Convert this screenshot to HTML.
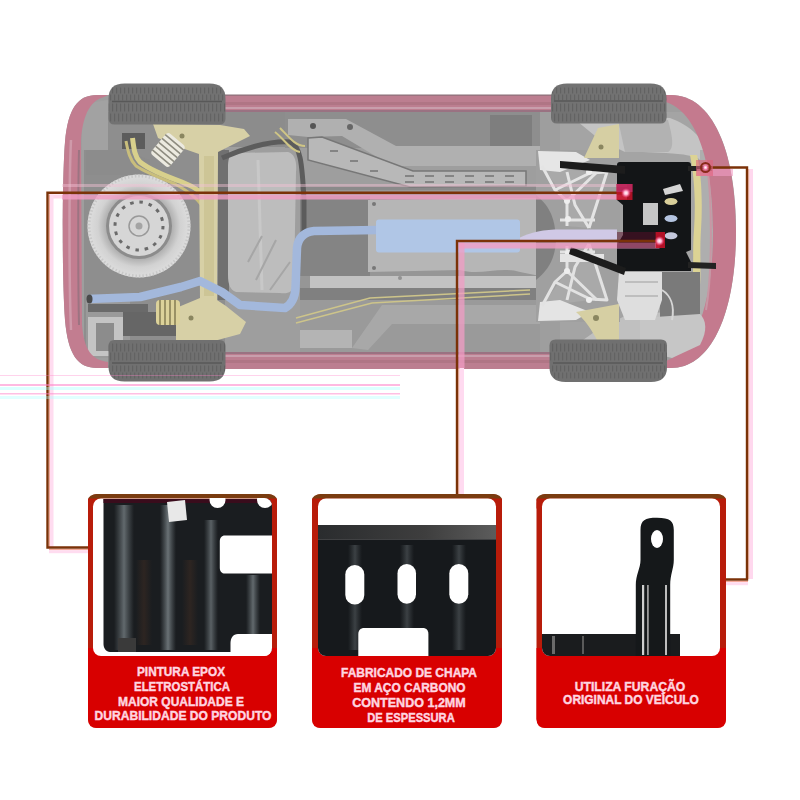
<!DOCTYPE html>
<html><head><meta charset="utf-8">
<style>
html,body{margin:0;padding:0;background:#fff;width:800px;height:800px;overflow:hidden;}
svg{display:block;position:absolute;left:0;top:0;}
text{font-family:"Liberation Sans",sans-serif;font-weight:bold;}
</style></head><body>
<svg width="800" height="800" viewBox="0 0 800 800">
<defs>
  <pattern id="tread" width="6" height="6" patternUnits="userSpaceOnUse">
    <rect width="6" height="6" fill="#6a6a6a"/>
    <rect x="0" y="0" width="1.5" height="6" fill="#595959"/>
  </pattern>
  <pattern id="tr1" width="4" height="41" patternUnits="userSpaceOnUse" y="83.5">
    <rect width="4" height="41" fill="#727272"/>
    <rect x="0" y="4" width="1.2" height="6" fill="#626262"/>
    <rect x="2" y="11" width="1.2" height="6" fill="#636363"/>
    <rect x="0" y="20" width="1.2" height="8" fill="#626262"/>
    <rect x="2" y="30" width="1.2" height="8" fill="#636363"/>
  </pattern>
  <pattern id="tr2" width="4" height="42" patternUnits="userSpaceOnUse" y="339.5">
    <rect width="4" height="42" fill="#707070"/>
    <rect x="0" y="4" width="1.2" height="8" fill="#626262"/>
    <rect x="2" y="13" width="1.2" height="8" fill="#636363"/>
    <rect x="0" y="26" width="1.2" height="6" fill="#626262"/>
    <rect x="2" y="33" width="1.2" height="6" fill="#636363"/>
  </pattern>
  <radialGradient id="sparegrad" cx="50%" cy="50%" r="50%">
    <stop offset="0.6" stop-color="#a8a8a8"/>
    <stop offset="0.8" stop-color="#d2d2d2"/>
    <stop offset="1" stop-color="#dedede"/>
  </radialGradient>
  <linearGradient id="streak" x1="0" y1="0" x2="1" y2="0">
    <stop offset="0" stop-color="#5a6266" stop-opacity="0"/>
    <stop offset="0.5" stop-color="#6a7276" stop-opacity="1"/>
    <stop offset="1" stop-color="#5a6266" stop-opacity="0"/>
  </linearGradient>
  <linearGradient id="brown" x1="0" y1="0" x2="1" y2="0">
    <stop offset="0" stop-color="#3a2a22" stop-opacity="0"/>
    <stop offset="0.5" stop-color="#3a2a22" stop-opacity="1"/>
    <stop offset="1" stop-color="#3a2a22" stop-opacity="0"/>
  </linearGradient>
  <linearGradient id="bandgrad" x1="0" y1="0" x2="1" y2="0">
    <stop offset="0" stop-color="#2a2c2e"/>
    <stop offset="0.6" stop-color="#3e3e3e"/>
    <stop offset="1" stop-color="#5c5c5c"/>
  </linearGradient>
  <radialGradient id="glow" cx="50%" cy="50%" r="50%">
    <stop offset="0" stop-color="#fff"/>
    <stop offset="0.4" stop-color="#ffb0d0"/>
    <stop offset="1" stop-color="#ff4080" stop-opacity="0"/>
  </radialGradient>
</defs>
<rect width="800" height="800" fill="#fff"/>

<!-- ============ CAR ============ -->
<g id="car">
  <!-- body silhouette -->
  <path d="M97 95 L671 95 C712 95 736 150 736 231 C736 312 712 368 671 368 L97 368 C78 368 68 355 65 320 C62 280 62 180 65 142 C68 108 78 95 97 95 Z" fill="#9e9e9e"/>
  <!-- rear inner area -->
  <path d="M84 112 L225 112 L225 352 L84 352 Z" fill="#8e8e8e"/>
  <path d="M82 104 L108 100 L108 150 L82 150 Z" fill="#a2a2a2"/>
  <path d="M86 150 L122 150 L150 160 L150 175 L86 175 Z" fill="#8c8c8c"/>
  <path d="M122 133 L145 133 L145 149 L122 149 Z" fill="#5c5c5c"/>
  <path d="M86 300 L130 300 L130 358 L86 358 Z" fill="#9a9a9a"/>
  <rect x="88" y="304" width="60" height="8" fill="#6a6a6a"/>
  <path d="M88 317 L123 317 L123 356 L88 356 Z" fill="#c4c4c4"/>
  <rect x="96" y="323" width="18" height="28" fill="#8c8c8c"/>
  <path d="M123 312 L185 312 L185 336 L123 336 Z" fill="#666"/>
  <!-- rear bumper band -->
  <path d="M97 95 C78 95 68 108 65 142 C62 180 62 280 65 320 C68 355 78 368 97 368 L108 368 L108 362 C92 360 84 350 82 325 L81 140 C83 112 92 100 104 97 L108 95 Z" fill="#c27d90"/>
  <path d="M71 140 C69 180 69 280 71 330" stroke="#cf9aaa" stroke-width="2.5" fill="none"/>
  <path d="M79 150 C78 190 78 280 79 325" stroke="#9c7482" stroke-width="2" fill="none"/>
  <!-- front inner areas -->
  <path d="M560 112 L700 112 C712 130 715 150 715 170 L715 300 C715 320 710 340 700 352 L560 352 Z" fill="#a4a4a4"/>
  <path d="M566 112 L670 118 C690 125 706 140 712 160 L700 160 C695 152 640 152 625 152 L600 140 Z" fill="#c4c4c4"/>
  <path d="M618 120 L668 120 C672 135 675 148 668 152 L625 152 Z" fill="#b2b2b2"/>
  <path d="M566 352 L670 346 C690 339 706 324 712 304 L700 300 C690 310 680 315 665 312 L625 316 L600 328 Z" fill="#c0c0c0"/>
  <path d="M660 310 L700 306 L706 330 L690 346 L666 350 Z" fill="#a9a9a9"/>
  <rect x="700" y="150" width="13" height="170" fill="#aeaeae"/>
  <path d="M697 155 C701 170 703 200 701 230 C699 260 703 285 697 298 L690 296 C695 280 692 255 694 230 C696 200 694 175 690 155 Z" fill="#dcd394"/>
  <!-- front bumper band -->
  <path d="M671 95 C712 95 736 150 736 231 C736 312 712 368 671 368 L662 368 L662 362 C695 355 713 305 713 231 C713 157 695 108 662 101 L662 95 Z" fill="#c47a8e"/>
  <path d="M706 160 C712 190 713 270 706 310" stroke="#c896a4" stroke-width="2" fill="none"/>
  <!-- sills -->
  <rect x="222" y="95" width="340" height="17" fill="#bc7e90"/>
  <rect x="222" y="94.5" width="340" height="1.2" fill="#8a7078"/>
  <rect x="222" y="102" width="340" height="3" fill="#b07585"/>
  <rect x="222" y="107" width="340" height="2" fill="#c89eac"/>
  <rect x="222" y="110" width="340" height="2" fill="#9a7282"/>
  <rect x="222" y="352" width="340" height="17" fill="#bc7e90"/>
  <rect x="222" y="352" width="340" height="2" fill="#9a7282"/>
  <rect x="222" y="355" width="340" height="2" fill="#c89eac"/>
  <rect x="222" y="360" width="340" height="3" fill="#b07585"/>

  <!-- middle underbody -->
  <rect x="225" y="112" width="315" height="240" fill="#9e9e9e"/>
  <rect x="225" y="112" width="60" height="35" fill="#8c8c8c"/>
  <rect x="285" y="112" width="255" height="36" fill="#8e8e8e"/>
  <rect x="490" y="115" width="42" height="35" fill="#7e7e7e"/>
  <rect x="300" y="186" width="240" height="10" fill="#8a8a8a"/>
  <!-- upper rail -->
  <path d="M288 119 L346 119 L396 146 L540 146 L540 166 L392 166 L342 136 L308 137 L288 135 Z" fill="#b0b0b0"/>
  <circle cx="313" cy="126" r="3" fill="#555"/><circle cx="350" cy="127" r="3" fill="#666"/>
  <!-- perforated bar -->
  <path d="M308 138 L322 137 L413 171 L526 171 L526 186 L410 187 L308 160 Z" fill="#b8b8b8" stroke="#777" stroke-width="1.5"/>
  <g fill="#848484">
    <rect x="330" y="150" width="8" height="2"/><rect x="350" y="160" width="8" height="2"/><rect x="370" y="170" width="8" height="2"/>
    <rect x="405" y="175" width="9" height="2"/><rect x="425" y="175" width="9" height="2"/><rect x="445" y="175" width="9" height="2"/><rect x="465" y="175" width="9" height="2"/><rect x="485" y="175" width="9" height="2"/><rect x="505" y="175" width="9" height="2"/>
    <rect x="405" y="181" width="9" height="2"/><rect x="425" y="181" width="9" height="2"/><rect x="445" y="181" width="9" height="2"/><rect x="465" y="181" width="9" height="2"/><rect x="485" y="181" width="9" height="2"/><rect x="505" y="181" width="9" height="2"/>
  </g>
  <!-- middle tunnel -->
  <rect x="300" y="190" width="240" height="110" fill="#969696"/>
  <rect x="300" y="196" width="70" height="80" fill="#848484"/>
  <path d="M368 200 L540 198 L540 276 L520 272 C500 266 480 276 460 270 L368 272 Z" fill="#b6b6b6"/>
  <path d="M310 276 L540 276 L540 288 L310 288 Z" fill="#c2c2c2"/>
  <path d="M300 288 L540 288 L540 300 L300 300 Z" fill="#808080"/>
  <circle cx="374" cy="204" r="2" fill="#777"/><circle cx="374" cy="268" r="2" fill="#777"/><circle cx="400" cy="278" r="2" fill="#929292"/>
  <path d="M300 300 L540 300 L540 352 L300 352 Z" fill="#9a9a9a"/>
  <path d="M352 348 L382 305 L540 305 L540 324 L392 324 L368 350 Z" fill="#a8a8a8"/>
  <path d="M296 318 L370 298 L530 290" stroke="#cdc48a" stroke-width="1.5" fill="none"/>
  <path d="M296 323 L372 303 L530 294" stroke="#cdc48a" stroke-width="1.5" fill="none"/>
  <rect x="300" y="330" width="52" height="18" fill="#b4b4b4"/>
  <!-- fuel tank -->
  <path d="M218 150 L229 150 L229 300 L218 300 Z" fill="#707070"/>
  <path d="M234 153 L288 152 C295 154 297 162 296 172 L294 285 C293 292 288 294 280 293 L236 292 C230 290 228 284 228 275 L228 168 C228 160 229 154 234 153 Z" fill="#bdbdbd"/>
  <path d="M222 158 C240 150 270 140 290 142 C300 146 302 160 304 200 L304 236" stroke="#5c5c5c" stroke-width="5" fill="none"/>
  <path d="M258 160 L262 290" stroke="#c8c8c8" stroke-width="3"/>
  <path d="M248 262 L262 236 M256 280 L276 240 M270 290 L290 262" stroke="#a6a6a6" stroke-width="2"/>
  <path d="M275 132 C285 140 290 150 300 152 M280 128 C288 136 295 146 305 146" stroke="#cfc585" stroke-width="2" fill="none"/>
  <!-- front subframe -->
  <path d="M536 150 L620 150 L620 322 L536 322 Z" fill="#a0a0a0"/>
  <path d="M536 195 C548 205 555 215 556 240 C555 260 548 270 536 280 Z" fill="#808080"/>
  <!-- top half lattice -->
  <path d="M542 166 L567 201 L567 226 L589 228 L607 173 L590 172 Z" fill="#a9a9a9"/>
  <path d="M538 151 L576 152 L590 160 L560 172 L540 170 Z" fill="#e6e6e6"/>
  <g fill="none" stroke="#e4e4e4" stroke-width="3" stroke-linejoin="round">
    <polyline points="542,166 555,190 567,201 567,226"/>
    <polyline points="590,173 607,172 598,200 589,228"/>
    <polyline points="555,190 590,173"/>
    <polyline points="567,172 575,205 589,228"/>
    <polyline points="567,201 597,172"/>
    <polyline points="560,220 595,220"/>
  </g>
  <circle cx="567" cy="201" r="3" fill="#eee"/><circle cx="568" cy="219" r="3" fill="#eee"/><circle cx="589" cy="172" r="3" fill="#eee"/>
  <!-- bottom half lattice -->
  <path d="M542 306 L567 271 L567 246 L589 244 L607 299 L590 300 Z" fill="#a9a9a9"/>
  <path d="M538 321 L576 320 L590 312 L560 300 L540 302 Z" fill="#e4e4e4"/>
  <g fill="none" stroke="#e2e2e2" stroke-width="3" stroke-linejoin="round">
    <polyline points="542,306 555,282 567,271 567,246"/>
    <polyline points="590,299 607,300 598,272 589,244"/>
    <polyline points="555,282 590,299"/>
    <polyline points="567,300 575,267 589,244"/>
    <polyline points="567,271 597,300"/>
    <polyline points="560,252 595,252"/>
  </g>
  <circle cx="567" cy="271" r="3" fill="#eee"/><circle cx="568" cy="253" r="3" fill="#eee"/><circle cx="589" cy="300" r="3" fill="#eee"/>
  <rect x="560" y="254" width="44" height="8" fill="#e4e4e4"/>
  <path d="M584 158 L598 128 L619 124 L619 158 Z" fill="#d6cfa3"/>
  <path d="M576 312 L619 304 L619 342 L598 342 C592 330 585 320 576 312 Z" fill="#d6cfa3"/>
  <circle cx="601" cy="147" r="2.5" fill="#8a8660"/><circle cx="596" cy="318" r="3" fill="#8a8660"/>
  <path d="M519 238 C530 232 545 229.5 560 229.5 L617 229.5 L617 239.5 L519 241 Z" fill="#d0c9e6"/>
  <!-- gearbox -->
  <path d="M660 272 L700 272 L700 332 L660 332 Z" fill="#7a7a7a"/>
  <path d="M640 318 L700 314 C706 320 708 330 700 345 L672 358 L640 350 Z" fill="#c6c6c6"/>
  <path d="M619 272 L662 272 L662 300 L655 320 L625 320 L617 300 Z" fill="#dedede"/>
  <path d="M625 282 L658 282 M625 296 L658 296" stroke="#b4b4b4" stroke-width="1.5"/>
  <path d="M662 290 C670 295 675 305 672 320" stroke="#d6d6d6" stroke-width="2" fill="none"/>

  <!-- spare tire -->
  <circle cx="139" cy="226" r="51.5" fill="url(#sparegrad)"/>
  <circle cx="139" cy="226" r="50" fill="none" stroke="#c8c8c8" stroke-width="3" stroke-dasharray="1.5 2"/>
  <circle cx="139" cy="226" r="33" fill="#8c8c8c"/>
  <circle cx="139" cy="226" r="30" fill="#d6d6d6"/>
  <circle cx="139" cy="226" r="24" fill="none" stroke="#6a6a6a" stroke-width="3" stroke-dasharray="3.5 5.9"/>
  <circle cx="139" cy="226" r="10" fill="none" stroke="#999" stroke-width="1.5"/>
  <circle cx="139" cy="226" r="3.5" fill="#a4a4a4"/>
  <!-- yellow fuel pipes rear -->
  <path d="M132.5 138 C134 150 135 157 140 162 C150 170 165 176 182 182 C195 187 205 193 214 205" stroke="#d8d08c" stroke-width="5" fill="none"/>
  <path d="M126 141 C128 152 130 160 136 166 C145 172 160 178 175 184 C190 192 200 200 208 215" stroke="#c9be7c" stroke-width="3" fill="none"/>

  <!-- rear beam -->
  <path d="M153 124 L220 125 L244 129 L250 136 L230 146 L218 152 L217 300 L226 306 L246 322 L240 334 L214 341 L176 341 L176 308 L200 298 L199 154 L176 146 L158 138 Z" fill="#d7d0a6"/>
  <rect x="204" y="156" width="10" height="140" fill="#cdc596"/>
  <!-- springs -->
  <g transform="rotate(-50 168 150)">
    <rect x="154" y="138" width="28" height="24" rx="4" fill="#eceae0"/>
    <path d="M158 138 L158 162 M163 138 L163 162 M168 138 L168 162 M173 138 L173 162 M178 138 L178 162" stroke="#8e8c80" stroke-width="1.6"/>
  </g>
  <rect x="156" y="300" width="24" height="25" rx="4" fill="#dcd29a"/>
  <path d="M160 300 L160 325 M165 300 L165 325 M170 300 L170 325 M175 300 L175 325" stroke="#8a8258" stroke-width="1.6"/>
  <circle cx="182" cy="136" r="2.5" fill="#8a8660"/>
  <circle cx="191" cy="318" r="2.5" fill="#8a8660"/>

  <!-- exhaust -->
  <path d="M88 299 L140 297 L181 287 L200 281 L222 292 L240 305 L285 308 C292 304 295 298 295.5 288 L297 248 C298 238 304 232 314 231 L378 230" stroke="#a3b8dc" stroke-width="8.5" fill="none" stroke-linejoin="round"/>
  <ellipse cx="89.5" cy="299" rx="3" ry="4.5" fill="#4a4a4a"/>
  <!-- muffler -->
  <rect x="376" y="219.5" width="144" height="33" rx="3" fill="#b0c6e6"/>

  <!-- skid plate -->
  <path d="M620 162 L688 162 Q691 162 691 165 L691 250 L686 252 L691 262 L691 271 L617 271 L617 245 L623 235 L623 205 L617 200 L617 165 Q617 162 620 162 Z" fill="#131517"/>
  <path d="M560 161 L625 166 L625 174 L560 168 Z" fill="#1c1c1c"/>
  <path d="M571 247 L626 268 L624 275 L569 254 Z" fill="#1c1c1c"/>
  <path d="M688 166 L712 166 L712 171 L688 171 Z" fill="#222"/>
  <path d="M688 262 L716 263 L716 269 L688 268 Z" fill="#222"/>
  <path d="M663 189 L680 184 L683 191 L665 195 Z" fill="#d5d5d5"/>
  <rect x="643" y="203" width="15" height="22" fill="#c6c6c6"/>
  <ellipse cx="671" cy="201.5" rx="6.5" ry="3.5" fill="#d9cf9a"/>
  <ellipse cx="671" cy="218.5" rx="6.5" ry="3.5" fill="#b4c4e0"/>
  <ellipse cx="671" cy="235.7" rx="6.5" ry="3.5" fill="#c4c8dc"/>

  <!-- tires -->
  <path d="M108.5 118.5 L108.5 98.5 Q108.5 83.5 124.5 83.5 L209.5 83.5 Q225.5 83.5 225.5 98.5 L225.5 118.5 Q225.5 124.5 219.5 124.5 L114.5 124.5 Q108.5 124.5 108.5 118.5 Z" fill="url(#tr1)"/>
  <path d="M108.5 346 L108.5 366.5 Q108.5 381.5 124.5 381.5 L209.5 381.5 Q225.5 381.5 225.5 366.5 L225.5 346 Q225.5 340 219.5 340 L114.5 340 Q108.5 340 108.5 346 Z" fill="url(#tr2)"/>
  <path d="M551 117.5 L551 98.5 Q551 83.5 567 83.5 L650.5 83.5 Q666.5 83.5 666.5 98.5 L666.5 117.5 Q666.5 123.5 660.5 123.5 L557 123.5 Q551 123.5 551 117.5 Z" fill="url(#tr1)"/>
  <path d="M549.5 345.5 L549.5 367 Q549.5 382 565.5 382 L651 382 Q667 382 667 367 L667 345.5 Q667 339.5 661 339.5 L555.5 339.5 Q549.5 339.5 549.5 345.5 Z" fill="url(#tr2)"/>
  <g stroke="#585858" stroke-width="1.3">
    <line x1="112" y1="101.5" x2="222" y2="101.5"/>
    <line x1="112" y1="363" x2="222" y2="363"/>
    <line x1="554" y1="101" x2="663" y2="101"/>
    <line x1="553" y1="363" x2="663" y2="363"/>
  </g>
</g>

<!-- ============ CALLOUT LINES ============ -->
<g>
  <rect x="49" y="194.5" width="13" height="4" fill="#ffd8ec"/>
  <rect x="62" y="194.5" width="565" height="5" fill="#f29cc4" opacity="0.8"/>
  <rect x="62" y="184" width="565" height="3" fill="#f4c0d4" opacity="0.45"/>
  <rect x="458.5" y="242.5" width="201" height="6" fill="#f29cc4" opacity="0.8"/>
  <rect x="617" y="232" width="38" height="16" fill="#5a0e2a" opacity="0.5"/>
  <rect x="458.5" y="242.5" width="6" height="126" fill="#f29cc4" opacity="0.75"/>
  <rect x="458.3" y="368" width="1.2" height="126" fill="#f4a898"/>
  <rect x="459.5" y="368" width="4.5" height="126" fill="#ffdaf0"/>
  <rect x="48.8" y="194.5" width="1.2" height="353" fill="#f4a898"/>
  <rect x="50" y="194.5" width="3.5" height="353" fill="#ffdcf0"/>
  <rect x="748.3" y="169" width="1.2" height="410" fill="#f4a898"/>
  <rect x="749.5" y="169" width="3.5" height="410" fill="#ffd8ee"/>
  <rect x="49" y="549" width="39" height="1.2" fill="#f4a898"/>
  <rect x="49" y="550.2" width="39" height="3" fill="#ffdcf0"/>
  <rect x="726" y="581" width="22" height="1.2" fill="#f4a898"/>
  <rect x="726" y="582.2" width="22" height="3" fill="#ffdcf0"/>
  <rect x="697" y="169" width="36" height="7" fill="#f29cc4" opacity="0.6"/>
  <rect x="93" y="549" width="2" height="0" fill="#ffe4f2"/>
</g>
<g fill="none" stroke="#7b3208" stroke-width="2.4">
  <polyline points="627,192.8 47.5,192.8 47.5,547.5 88,547.5"/>
  <polyline points="660,241 457,241 457,494"/>
  <polyline points="705,167.5 747,167.5 747,579.5 726,579.5"/>
</g>
<g>
  <rect x="616.5" y="184" width="16" height="16" fill="#c41028" opacity="0.85"/>
  <rect x="616.5" y="184" width="16" height="8" fill="#c03070" opacity="0.7"/>
  <circle cx="626" cy="193" r="5" fill="url(#glow)"/>
  <rect x="655.5" y="232" width="9.5" height="16" fill="#c41028" opacity="0.9"/>
  <circle cx="659.5" cy="241" r="5" fill="url(#glow)"/>
  <rect x="696" y="160" width="17" height="16" fill="#e0607a" opacity="0.6"/>
  <circle cx="705.5" cy="167.5" r="4.5" fill="none" stroke="#8a2a1a" stroke-width="2"/>
  <circle cx="705.5" cy="167.5" r="3.5" fill="url(#glow)"/>
</g>

<g>
  <rect x="0" y="375" width="400" height="1" fill="#ff80c8" opacity="0.35"/>
  <rect x="0" y="384" width="400" height="2" fill="#ff80c8" opacity="0.55"/>
  <rect x="0" y="387" width="400" height="3" fill="#a8ffff" opacity="0.4"/>
  <rect x="0" y="393" width="400" height="1.5" fill="#ff80c8" opacity="0.5"/>
  <rect x="0" y="396" width="400" height="3" fill="#a8ffff" opacity="0.35"/>
</g>

<!-- ============ CARDS ============ -->
<g id="cards">
  <!-- card 1 -->
  <rect x="88" y="494" width="189" height="234" rx="9" fill="#b81c0a"/>
  <rect x="88" y="494" width="189" height="12" rx="9" fill="#7a3c10"/>
  <rect x="88" y="498.5" width="189" height="10" fill="#b81c0a"/>
  <path d="M88 648 L277 648 L277 719 Q277 728 268 728 L97 728 Q88 728 88 719 Z" fill="#d80000"/>
  <rect x="93" y="498.5" width="179" height="157.5" rx="8" fill="#fff"/>
  <!-- card 2 -->
  <rect x="312" y="494" width="190" height="234" rx="9" fill="#b81c0a"/>
  <rect x="312" y="494" width="190" height="12" rx="9" fill="#7a3c10"/>
  <rect x="312" y="498.5" width="190" height="10" fill="#b81c0a"/>
  <path d="M312 648 L502 648 L502 719 Q502 728 493 728 L321 728 Q312 728 312 719 Z" fill="#d80000"/>
  <rect x="318" y="498.5" width="178" height="157.5" rx="8" fill="#fff"/>
  <!-- card 3 -->
  <rect x="536.5" y="494" width="189.5" height="234" rx="9" fill="#b81c0a"/>
  <rect x="536.5" y="494" width="189.5" height="12" rx="9" fill="#7a3c10"/>
  <rect x="536.5" y="498.5" width="189.5" height="10" fill="#b81c0a"/>
  <path d="M536.5 648 L726 648 L726 719 Q726 728 717 728 L545.5 728 Q536.5 728 536.5 719 Z" fill="#d80000"/>
  <rect x="542" y="498.5" width="178" height="157.5" rx="8" fill="#fff"/>

  <!-- card 1 image -->
  <clipPath id="c1"><rect x="93" y="498" width="179" height="158" rx="8"/></clipPath>
  <g clip-path="url(#c1)">
    <path d="M103.5 499 L272 499 L272 652 L110 652 C106 652 103.5 648 103.5 644 Z" fill="#1a1d20"/>
    <rect x="103.5" y="499" width="168.5" height="4" fill="#3a0c1c"/>
    <rect x="114" y="505" width="20" height="145" fill="url(#streak)" opacity="0.9"/>
    <rect x="160" y="505" width="16" height="145" fill="url(#streak)" opacity="1"/>
    <rect x="204" y="520" width="14" height="130" fill="url(#streak)" opacity="0.8"/>
    <rect x="246" y="575" width="14" height="60" fill="url(#streak)" opacity="0.9"/>
    <rect x="136" y="560" width="16" height="85" fill="url(#brown)" opacity="0.6"/>
    <rect x="182" y="560" width="16" height="85" fill="url(#brown)" opacity="0.6"/>
    <circle cx="217.5" cy="500" r="8" fill="#fff"/>
    <circle cx="265" cy="500" r="8" fill="#fff"/>
    <path d="M272 535.5 L225 535.5 C221.5 535.5 219.8 538 219.8 541 L219.8 568 C219.8 571 221.5 573.6 225 573.6 L272 573.6 Z" fill="#fff"/>
    <path d="M272 634 L238 634 C233 634 230.5 638 230.5 643 L230.5 656 L272 656 Z" fill="#fff"/>
    <path d="M167 502 L185 500 L187 520 L169 522 Z" fill="#e8e8e8"/>
    <rect x="118" y="638" width="18" height="14" fill="#3a3a3a"/>
  </g>

  <!-- card 2 image -->
  <clipPath id="c2"><rect x="318" y="498" width="178" height="158" rx="8"/></clipPath>
  <g clip-path="url(#c2)">
    <rect x="318" y="525" width="178" height="131" fill="#16191c"/>
    <rect x="318" y="525" width="178" height="14" fill="#454545"/>
    <rect x="318" y="538" width="178" height="1.5" fill="#6a6a6a"/>
    <rect x="318" y="525" width="178" height="14" fill="url(#bandgrad)"/>
    <rect x="348" y="545" width="14" height="105" fill="url(#streak)" opacity="0.45"/>
    <rect x="400" y="545" width="14" height="105" fill="url(#streak)" opacity="0.45"/>
    <rect x="452" y="545" width="14" height="105" fill="url(#streak)" opacity="0.45"/>
    <rect x="345.3" y="565" width="19" height="39.5" rx="9.5" fill="#fff"/>
    <rect x="397.5" y="564" width="18.5" height="39.7" rx="9.25" fill="#fff"/>
    <rect x="449.3" y="564" width="19" height="39.7" rx="9.5" fill="#fff"/>
    <path d="M358.3 656 L358.3 634 C358.3 630 361 628 364 628 L423 628 C426 628 428.4 630 428.4 634 L428.4 656 Z" fill="#fff"/>
  </g>

  <!-- card 3 image -->
  <clipPath id="c3"><rect x="542" y="498" width="178" height="158" rx="8"/></clipPath>
  <g clip-path="url(#c3)">
    <rect x="542" y="634" width="138" height="22" fill="#1a1c1e"/>
    <rect x="552" y="636" width="3" height="18" fill="#6a6a6a"/>
    <rect x="582" y="636" width="2" height="18" fill="#5a5a5a"/>
    <path d="M640.5 530 C640.5 520 645 517.7 657 517.7 C670 517.7 673.8 521 673.8 530 L673.8 560 C673.8 568 670.2 575 670.2 585 L670.2 656 L635.8 656 L635.8 585 C635.8 575 640.5 568 640.5 560 Z" fill="#15181a"/>
    <ellipse cx="657" cy="539" rx="6" ry="9" fill="#fff"/>
    <rect x="642" y="585" width="2.2" height="70" fill="#cfcfcf"/>
    <rect x="647" y="585" width="1.8" height="70" fill="#9a9a9a"/>
    <rect x="665" y="585" width="2" height="70" fill="#bdbdbd"/>
  </g>

  <!-- card texts -->
  <g fill="#ffd6e0" stroke="#ffd6e0" stroke-width="0.45" font-size="13.5">
    <text x="181" y="676" text-anchor="middle" textLength="88" lengthAdjust="spacingAndGlyphs">PINTURA EPOX</text>
    <text x="182" y="690.5" text-anchor="middle" textLength="96" lengthAdjust="spacingAndGlyphs">ELETROSTÁTICA</text>
    <text x="181" y="705.5" text-anchor="middle" textLength="126" lengthAdjust="spacingAndGlyphs">MAIOR QUALIDADE E</text>
    <text x="183" y="720" text-anchor="middle" textLength="177" lengthAdjust="spacingAndGlyphs">DURABILIDADE DO PRODUTO</text>

    <text x="409" y="676.5" text-anchor="middle" textLength="136" lengthAdjust="spacingAndGlyphs">FABRICADO DE CHAPA</text>
    <text x="409.5" y="692" text-anchor="middle" textLength="112" lengthAdjust="spacingAndGlyphs">EM AÇO CARBONO</text>
    <text x="409" y="707" text-anchor="middle" textLength="113.5" lengthAdjust="spacingAndGlyphs">CONTENDO 1,2MM</text>
    <text x="411" y="721.5" text-anchor="middle" textLength="87.5" lengthAdjust="spacingAndGlyphs">DE ESPESSURA</text>

    <text x="630" y="690.5" text-anchor="middle" textLength="110.7" lengthAdjust="spacingAndGlyphs">UTILIZA FURAÇÃO</text>
    <text x="631" y="704" text-anchor="middle" textLength="135.8" lengthAdjust="spacingAndGlyphs">ORIGINAL DO VEÍCULO</text>
  </g>
</g>
</svg>
</body></html>
